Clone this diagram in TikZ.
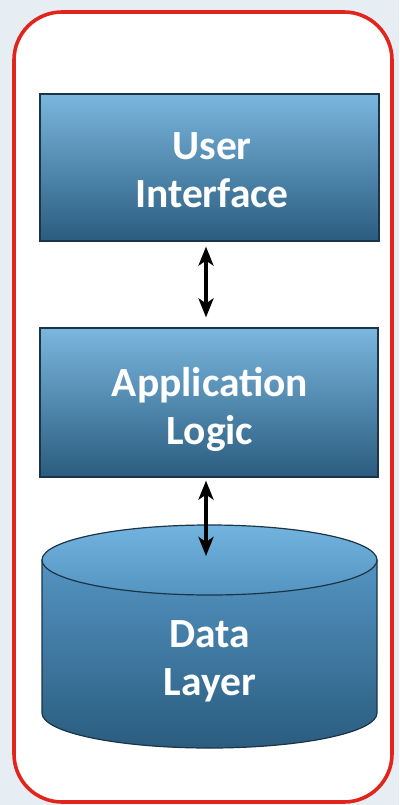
\documentclass[tikz,border=0pt]{standalone}
\usepackage{fontspec}
\setmainfont{Carlito}
\usetikzlibrary{arrows.meta}
\definecolor{bgcol}{HTML}{E6EDF3}
\definecolor{framered}{HTML}{E2251C}
\definecolor{boxtop}{HTML}{7AB6DE}
\definecolor{boxbot}{HTML}{2A5C7F}
\definecolor{boxline}{HTML}{1B3446}
\definecolor{cyltop}{HTML}{73B3DF}
\definecolor{cylmid}{HTML}{5494C2}
\tikzset{
  layerbox/.style={draw=boxline, line width=1.2pt, top color=boxtop, bottom color=boxbot},
  layertext/.style={text=white, align=center, font=\bfseries\fontsize{41.5}{48}\selectfont},
  dblarrow/.style={line width=3.8pt, {Stealth[length=19pt,width=15pt,inset=5pt]}-{Stealth[length=19pt,width=15pt,inset=5pt]}},
  frame/.style={draw=framered, line width=3.6pt, fill=white, rounded corners=48pt}
}
\begin{document}
\begin{tikzpicture}[x=1pt,y=-1pt]
\useasboundingbox (0,0) rectangle (399,805);
\fill[bgcol] (0,0) rectangle (399,805);
\draw[frame] (14,12) rectangle (392,802);
% boxes
\node[layerbox, minimum width=339pt, minimum height=147pt] (ui) at (209.5,167.5) {};
\node[layertext] (uitext) at (212,170) {User\\Interface};
\node[layerbox, minimum width=338pt, minimum height=149pt] (app) at (209,402.5) {};
\node[layertext] (apptext) at (210,409) {Application\\Logic};
% cylinder
\shade[top color=cylmid, bottom color=boxbot, draw=boxline, line width=1.2pt]
  (42,560) -- (42,713) arc[start angle=180, end angle=0, x radius=167.5, y radius=35] -- (377,560) -- cycle;
\shade[top color=cyltop, bottom color=cylmid, draw=boxline, line width=1.2pt]
  (209.5,560) ellipse[x radius=167.5, y radius=35];
\node[layertext] (data) at (210,661) {Data\\Layer};
\coordinate (dtop) at (206,556);
% arrows
\draw[dblarrow, shorten <=5pt, shorten >=10pt] ([xshift=-3.5pt]ui.south) -- ([xshift=-3pt]app.north);
\draw[dblarrow, shorten <=3pt] ([xshift=-3pt]app.south) -- (dtop);
\end{tikzpicture}
\end{document}
